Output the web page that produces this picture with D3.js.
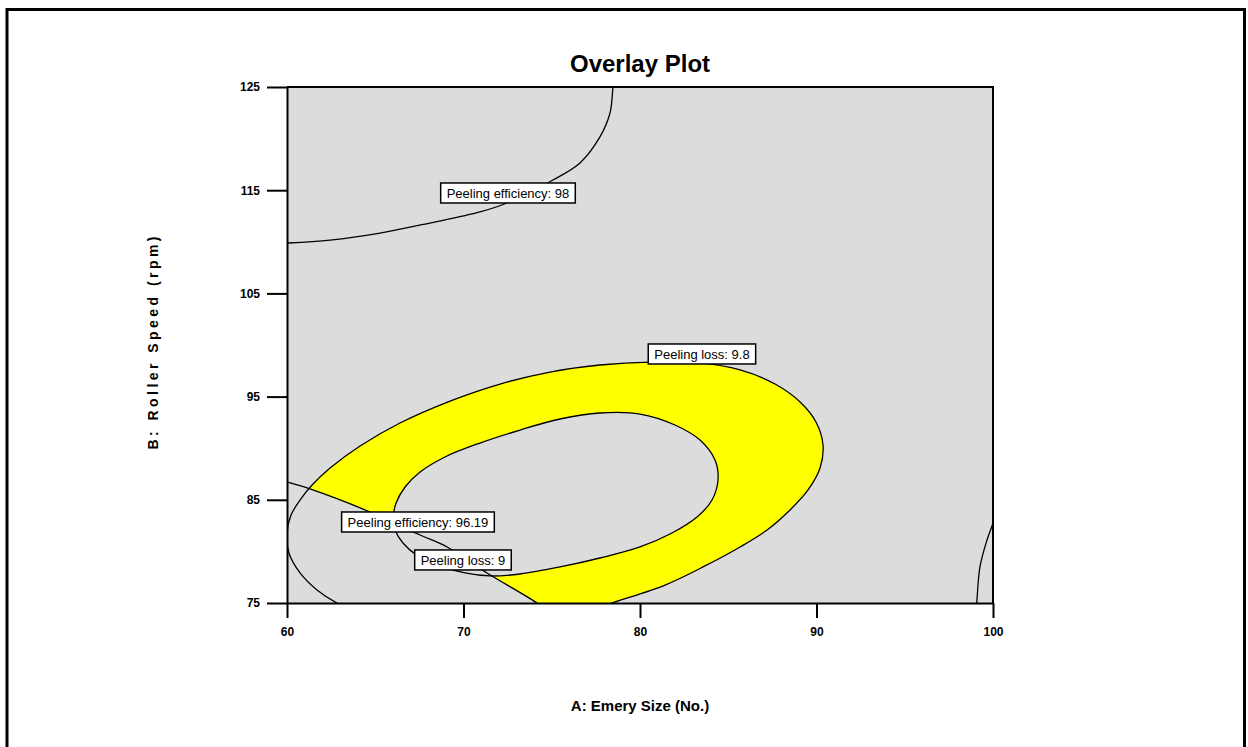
<!DOCTYPE html>
<html>
<head>
<meta charset="utf-8">
<script src="https://cdn.jsdelivr.net/npm/d3@7"></script>
<style>
body { margin: 0; background: #fff; }
svg { display: block; font-family: "Liberation Sans", Arial, sans-serif; }
</style>
</head>
<body>
<svg id="drawing_region"></svg>
<script>
// axis ticks
const xTicks = [60, 70, 80, 90, 100];
const yTicks = [75, 85, 95, 105, 115, 125];

// contour lines, as [A: emery size, B: roller speed]
const lossOuter = [ // peeling loss 9.8 (closed)
    [62.83, 75.00], [61.70, 76.26], [60.74, 77.91], [60.11, 79.84], [60.00, 81.78],
    [60.23, 83.53], [60.74, 84.98], [61.42, 86.43], [62.44, 88.08], [64.14, 90.21],
    [66.40, 92.44], [69.24, 94.57], [72.07, 96.22], [74.90, 97.38], [77.73, 98.06],
    [80.57, 98.35], [83.40, 98.26], [85.67, 97.58], [87.65, 96.22], [89.07, 94.48],
    [89.97, 92.54], [90.37, 90.31], [90.20, 88.08], [89.52, 85.95], [88.50, 84.01],
    [87.20, 82.07], [85.67, 80.43], [83.68, 78.59], [81.42, 76.74], [78.41, 75.00],
    [76.60, 73.93], [73.20, 72.77], [69.24, 72.58], [65.84, 73.35], [63.85, 74.32]
];
const lossInner = [ // peeling loss 9 (closed)
    [66.01, 83.04], [66.18, 84.69], [66.69, 86.24], [67.54, 87.69], [68.95, 89.15],
    [70.93, 90.50], [73.20, 91.76], [75.47, 92.83], [77.73, 93.41], [80.00, 93.31],
    [81.98, 92.25], [83.40, 90.79], [84.25, 88.86], [84.42, 86.92], [84.08, 84.98],
    [83.23, 83.33], [81.81, 81.78], [80.00, 80.43], [77.73, 79.36], [75.47, 78.49],
    [73.20, 77.81], [71.50, 77.62], [70.08, 77.91], [68.67, 78.59], [67.42, 79.55],
    [66.57, 80.81], [66.12, 82.07]
];
const effLow = [ // peeling efficiency 96.19
    [59.60, 86.90], [60.00, 86.72], [61.30, 86.05], [64.70, 83.82], [67.54, 81.59],
    [69.07, 80.43], [71.33, 77.91], [74.16, 75.00], [74.62, 74.32]
];
const effHigh = [ // peeling efficiency 98
    [78.53, 125.68], [78.47, 125.00], [78.30, 122.48], [77.73, 120.16], [76.60, 117.64],
    [75.07, 115.99], [72.46, 113.76], [70.93, 112.89], [68.10, 111.82], [65.27, 110.85],
    [62.44, 110.17], [60.00, 109.88], [59.50, 109.85]
];
const effRight = [ // unlabeled contour at the right edge
    [100.11, 83.53], [100.00, 82.75], [99.66, 81.10], [99.26, 78.49], [99.09, 75.29],
    [99.04, 74.32]
];

const labelTexts = ["Peeling efficiency: 98", "Peeling loss: 9.8", "Peeling efficiency: 96.19", "Peeling loss: 9"];
const labelA = [72.52, 83.51, 67.42, 69.97];
const labelB = [114.73, 99.13, 82.85, 79.17];

class OverlayPlot {

    constructor( config ) {
        this.config = {
            parent: config.parent,
            width: config.width,
            height: config.height,
            margin: config.margin
        };
        this.init();
    }

    init() {
        let self = this;
        const m = self.config.margin;

        self.svg = d3.select( self.config.parent )
            .attr('width', self.config.width)
            .attr('height', self.config.height);

        self.inner_width = self.config.width - m.left - m.right;
        self.inner_height = self.config.height - m.top - m.bottom;

        self.chart = self.svg.append('g')
            .attr('transform', `translate(${m.left}, ${m.top})`);

        self.xscale = d3.scaleLinear()
            .domain([60, 100])
            .range([0, self.inner_width]);

        self.yscale = d3.scaleLinear()
            .domain([75, 125])
            .range([self.inner_height, 0]);

        self.closed = d3.line()
            .x(d => self.xscale(d[0]))
            .y(d => self.yscale(d[1]))
            .curve(d3.curveCatmullRomClosed.alpha(0.5));

        self.open = d3.line()
            .x(d => self.xscale(d[0]))
            .y(d => self.yscale(d[1]))
            .curve(d3.curveCatmullRom.alpha(0.5));
    }

    update() {
        let self = this;
        self.render();
    }

    render() {
        let self = this;
        const w = self.inner_width, h = self.inner_height;

        // outer frame
        self.svg.append('rect')
            .attr('x', 7).attr('y', 9.5)
            .attr('width', 1237.5).attr('height', 800)
            .attr('fill', 'none')
            .attr('stroke', '#000')
            .attr('stroke-width', 3);

        const defs = self.svg.append('defs');
        defs.append('clipPath').attr('id', 'plot-clip')
            .append('rect').attr('width', w).attr('height', h);

        // region where efficiency >= 96.19 (above the low line)
        const region = effLow.concat([[101, 74], [101, 126], [59, 126]]);
        defs.append('clipPath').attr('id', 'eff-clip')
            .append('path')
            .attr('d', d3.line()
                .x(d => self.xscale(d[0]))
                .y(d => self.yscale(d[1]))(region) + 'Z');

        self.chart.append('rect')
            .attr('width', w).attr('height', h)
            .attr('fill', '#dcdcdc');

        const g = self.chart.append('g').attr('clip-path', 'url(#plot-clip)');

        g.append('g').attr('clip-path', 'url(#eff-clip)')
            .append('path')
            .attr('d', self.closed(lossOuter) + self.closed(lossInner))
            .attr('fill', '#ffff00')
            .attr('fill-rule', 'evenodd');

        g.selectAll('.closed')
            .data([lossOuter, lossInner])
            .join('path')
            .attr('d', self.closed)
            .attr('fill', 'none')
            .attr('stroke', '#000')
            .attr('stroke-width', 1.3);

        g.selectAll('.open')
            .data([effLow, effHigh, effRight])
            .join('path')
            .attr('d', self.open)
            .attr('fill', 'none')
            .attr('stroke', '#000')
            .attr('stroke-width', 1.3);

        // contour labels
        const labels = self.chart.selectAll('.lab')
            .data(labelTexts)
            .join('g')
            .attr('transform', (d, i) => `translate(${self.xscale(labelA[i])}, ${self.yscale(labelB[i])})`);

        labels.append('rect');
        labels.append('text')
            .attr('text-anchor', 'middle')
            .attr('dy', '0.36em')
            .attr('font-size', 13)
            .attr('fill', '#000')
            .text(d => d);

        labels.each(function() {
            const bb = d3.select(this).select('text').node().getBBox();
            d3.select(this).select('rect')
                .attr('x', bb.x - 6).attr('y', -10)
                .attr('width', bb.width + 12).attr('height', 20)
                .attr('fill', '#fff')
                .attr('stroke', '#000')
                .attr('stroke-width', 1.5);
        });

        // axes
        const xaxis = self.chart.append('g')
            .attr('transform', `translate(0, ${h})`)
            .call(d3.axisBottom(self.xscale).tickValues(xTicks).tickSize(15).tickSizeOuter(0).tickPadding(9));

        const yaxis = self.chart.append('g')
            .call(d3.axisLeft(self.yscale).tickValues(yTicks).tickSize(20).tickSizeOuter(0).tickPadding(7));

        [xaxis, yaxis].forEach(ax => {
            ax.selectAll('path, line').attr('stroke', '#000').attr('stroke-width', 2);
            ax.selectAll('text')
                .attr('font-size', 12)
                .attr('font-weight', 'bold')
                .attr('font-family', '"Liberation Sans", Arial, sans-serif')
                .attr('fill', '#000');
        });

        self.chart.append('path')
            .attr('d', `M0,0H${w}V${h}`)
            .attr('fill', 'none')
            .attr('stroke', '#000')
            .attr('stroke-width', 2);

        // titles
        self.svg.append('text')
            .attr('x', self.config.margin.left + w / 2)
            .attr('y', 72)
            .attr('text-anchor', 'middle')
            .attr('font-size', 24)
            .attr('font-weight', 'bold')
            .text('Overlay Plot');

        self.svg.append('text')
            .attr('x', self.config.margin.left + w / 2)
            .attr('y', 711)
            .attr('text-anchor', 'middle')
            .attr('font-size', 15)
            .attr('font-weight', 'bold')
            .text('A: Emery Size (No.)');

        self.svg.append('text')
            .attr('transform', 'translate(158, 343) rotate(-90)')
            .attr('text-anchor', 'middle')
            .attr('font-size', 14)
            .attr('font-weight', 'bold')
            .attr('textLength', 213)
            .attr('lengthAdjust', 'spacing')
            .text('B: Roller Speed (rpm)');
    }
}

const plot = new OverlayPlot({
    parent: '#drawing_region',
    width: 1248,
    height: 747,
    margin: { top: 87, right: 255, bottom: 144, left: 287 }
});
plot.update();
</script>
</body>
</html>
